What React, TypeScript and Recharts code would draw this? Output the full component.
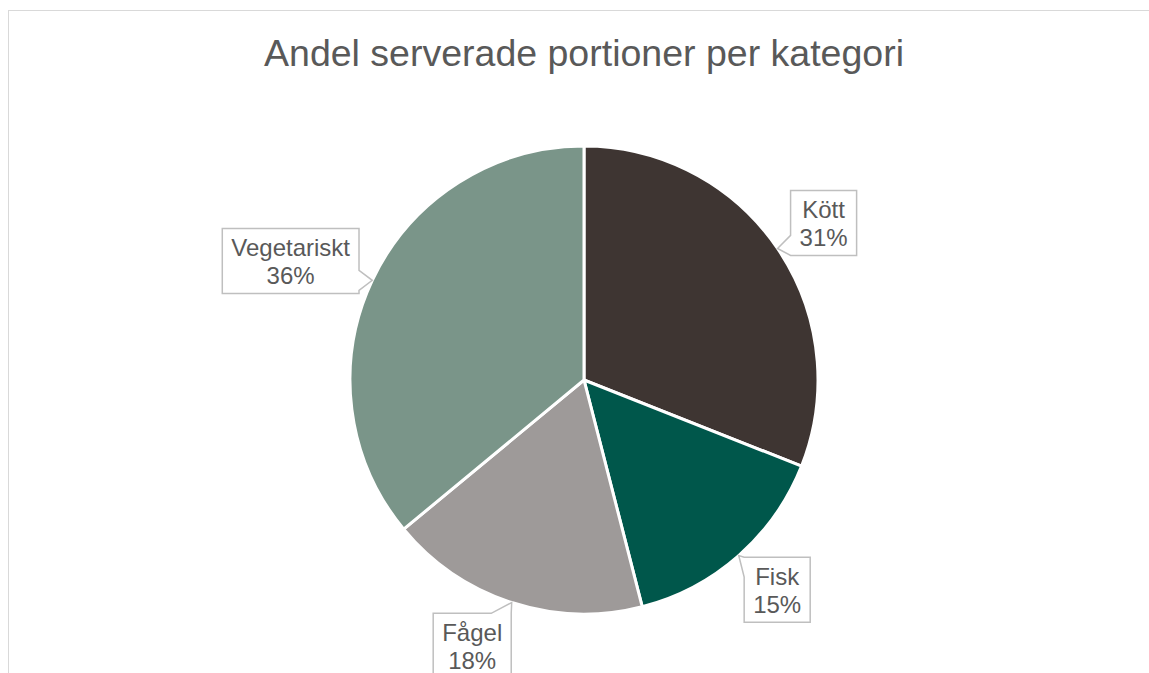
import { PieChart, Pie, Cell } from "recharts";

const categories = ["Kött", "Fisk", "Fågel", "Vegetariskt"];
const shares = [31, 15, 18, 36];
const colors = ["#3E3532", "#00574B", "#9E9A99", "#7A9589"];

const data = categories.map((name, i) => ({ name, value: shares[i] }));

const RAD = Math.PI / 180;
const LABEL_FONT = "24px 'Liberation Sans', Arial, sans-serif";

let ctx: CanvasRenderingContext2D | null = null;
function textWidth(s: string) {
  if (!ctx) ctx = document.createElement("canvas").getContext("2d");
  if (!ctx) return s.length * 12;
  ctx.font = LABEL_FONT;
  return ctx.measureText(s).width;
}

function Callout(props: any) {
  const { cx, cy, midAngle, outerRadius, percent, name } = props;
  const cos = Math.cos(-midAngle * RAD);
  const sin = Math.sin(-midAngle * RAD);
  const pct = `${Math.round(percent * 100)}%`;
  const w = Math.max(textWidth(name), textWidth(pct)) + 18;
  const h = 65;

  // point on the slice edge the pointer runs to
  const tx = cx + outerRadius * cos;
  const ty = cy + outerRadius * sin;
  const ax = cx + (outerRadius + 13) * cos;
  const ay = cy + (outerRadius + 13) * sin;
  // labels near the bottom lean away from the pointer, side labels sit further out
  const nearVertical = Math.abs(sin) > 0.9;
  const shift = nearVertical ? Math.sign(cos) * w * 0.3 : Math.sign(cos) * 8;
  const bx = ax + (cos * w) / 2 + shift;
  const by = ay + (sin * h) / 2;
  const x0 = bx - w / 2;
  const x1 = bx + w / 2;
  const y0 = by - h / 2;
  const y1 = by + h / 2;

  const over = {
    left: x0 - tx,
    right: tx - x1,
    top: y0 - ty,
    bottom: ty - y1,
  };
  const side = (Object.keys(over) as (keyof typeof over)[]).reduce((a, b) =>
    over[b] > over[a] ? b : a
  );
  const half = 10;
  const clamp = (v: number, lo: number, hi: number) =>
    Math.min(Math.max(v, lo), hi);

  let d = "";
  if (side === "top") {
    const c = clamp(tx, x0 + half, x1 - half);
    d = `M${x0},${y0} L${c - half},${y0} L${tx},${ty} L${c + half},${y0} L${x1},${y0} L${x1},${y1} L${x0},${y1} Z`;
  } else if (side === "right") {
    const c = clamp(ty, y0 + half, y1 - half);
    d = `M${x0},${y0} L${x1},${y0} L${x1},${c - half} L${tx},${ty} L${x1},${c + half} L${x1},${y1} L${x0},${y1} Z`;
  } else if (side === "bottom") {
    const c = clamp(tx, x0 + half, x1 - half);
    d = `M${x0},${y0} L${x1},${y0} L${x1},${y1} L${c + half},${y1} L${tx},${ty} L${c - half},${y1} L${x0},${y1} Z`;
  } else {
    const c = clamp(ty, y0 + half, y1 - half);
    d = `M${x0},${y0} L${x1},${y0} L${x1},${y1} L${x0},${y1} L${x0},${c + half} L${tx},${ty} L${x0},${c - half} Z`;
  }

  return (
    <g>
      <path d={d} fill="#FFFFFF" stroke="#BFBFBF" strokeWidth={1.5} />
      <text
        x={bx}
        y={y0 + 28}
        textAnchor="middle"
        fill="#595959"
        style={{ font: LABEL_FONT }}
      >
        {name}
      </text>
      <text
        x={bx}
        y={y0 + 56}
        textAnchor="middle"
        fill="#595959"
        style={{ font: LABEL_FONT }}
      >
        {pct}
      </text>
    </g>
  );
}

export default function App() {
  return (
    <div
      style={{
        position: "fixed",
        left: 0,
        top: 0,
        width: 1149,
        height: 673,
        overflow: "hidden",
        background: "#FFFFFF",
        fontFamily: "'Liberation Sans', Arial, sans-serif",
      }}
    >
      <div
        style={{
          position: "absolute",
          left: 8,
          top: 10,
          width: 1200,
          height: 720,
          border: "1px solid #D9D9D9",
        }}
      />
      <div
        style={{
          position: "absolute",
          left: 0,
          top: 35,
          width: 1168,
          textAlign: "center",
          fontSize: 37.5,
          lineHeight: "37px",
          color: "#595959",
        }}
      >
        Andel serverade portioner per kategori
      </div>
      <div style={{ position: "absolute", left: 0, top: 0 }}>
        <PieChart
          width={1149}
          height={673}
          margin={{ top: 0, right: 0, bottom: 0, left: 0 }}
        >
          <Pie
            data={data}
            dataKey="value"
            nameKey="name"
            cx={584}
            cy={380}
            outerRadius={234}
            startAngle={90}
            endAngle={-270}
            stroke="#FFFFFF"
            strokeWidth={3}
            label={Callout}
            labelLine={false}
            isAnimationActive={false}
          >
            {data.map((d, i) => (
              <Cell key={d.name} fill={colors[i]} />
            ))}
          </Pie>
        </PieChart>
      </div>
    </div>
  );
}
